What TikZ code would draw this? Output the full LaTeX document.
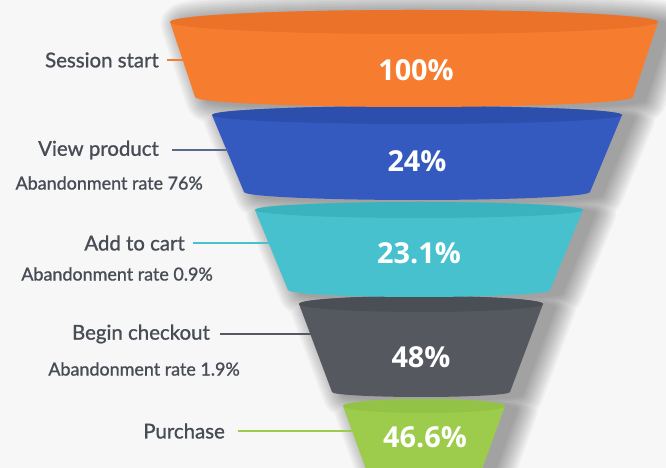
\documentclass[tikz,border=0pt]{standalone}
\usepackage{fontspec}
\setmainfont{Lato}[FakeBold=1.1]
\newfontfamily\pctfont{Open Sans}

\definecolor{bgcol}{HTML}{F7F7F7}
\definecolor{txtcol}{HTML}{474C55}
\definecolor{orangeA}{HTML}{F67D30}
\definecolor{orangeB}{HTML}{EA7329}
\definecolor{blueA}{HTML}{345AC0}
\definecolor{blueB}{HTML}{2C4EAD}
\definecolor{cyanA}{HTML}{46C1CD}
\definecolor{cyanB}{HTML}{3BB3BF}
\definecolor{grayA}{HTML}{55595F}
\definecolor{grayB}{HTML}{4A4E55}
\definecolor{greenA}{HTML}{9DCC4C}
\definecolor{greenB}{HTML}{93C346}
\definecolor{slate}{HTML}{5B6A88}

% 漏斗一段的轮廓: 中心x, 顶y, 顶半径x, 顶半径y, 底y, 底半径x, 底半径y
\newcommand{\funnelbody}[7]{({#1-#3},#2) arc[start angle=180, end angle=0, x radius=#3, y radius=#4]
  -- ({#1+#6},#5) arc[start angle=0, end angle=-180, x radius=#6, y radius=#7] -- cycle}

% 漏斗一段: 侧面颜色, 顶面颜色, 然后同上七个数
\newcommand{\funnelpart}[9]{%
  \fill[#1] \funnelbody{#3}{#4}{#5}{#6}{#7}{#8}{#9};
  \fill[#2] (#3,#4) ellipse[x radius=#5, y radius=#6];
}

% 整个漏斗的外形 (画阴影用)
\newcommand{\funnelall}{\funnelbody{424}{62}{81}{7}{-4}{57}{5}
  \funnelbody{421}{164}{122}{8}{76}{89}{5}
  \funnelbody{419}{258}{164}{8}{178}{131}{7}
  \funnelbody{417}{353}{205}{9}{276}{173}{8}
  \funnelbody{414}{446}{244}{12}{371}{219}{10}}

\tikzset{
  stage/.style={text=txtcol, font=\fontsize{20.5}{22}\selectfont, anchor=east, inner sep=0pt},
  rate/.style={text=txtcol, font=\fontsize{18}{20}\selectfont, anchor=east, inner sep=0pt},
  pct/.style={text=white, font=\pctfont\bfseries\fontsize{29}{32}\selectfont},
  link/.style={line width=1.4bp}
}

\begin{document}
\begin{tikzpicture}[x=1bp, y=1bp]
  % 1. 背景
  \useasboundingbox (0,0) rectangle (666,468);
  \clip (0,0) rectangle (666,468);
  \fill[bgcol] (0,0) rectangle (666,468);

  % 2. 软阴影, 一层层叠出来
  \foreach \w in {2,6,...,42} {
    \begin{scope}[transparency group, opacity=0.035]
      \filldraw[black, line width=\w bp, line join=round, xshift=12bp, yshift=-3bp] \funnelall;
    \end{scope}
  }

  % 3. 漏斗各段, 从下往上画
  \funnelpart{greenA}{greenB}{424}{62}{81}{7}{-4}{57}{5}
  \funnelpart{grayA}{grayB}{421}{164}{122}{8}{76}{89}{5}
  \funnelpart{cyanA}{cyanB}{419}{258}{164}{8}{178}{131}{7}
  \funnelpart{blueA}{blueB}{417}{353}{205}{9}{276}{173}{8}
  \funnelpart{orangeA}{orangeB}{414}{446}{244}{12}{371}{219}{10}

  % 4. 百分比
  \node[pct] (p1) at (416,398) {100\%};
  \node[pct] (p2) at (417,307) {24\%};
  \node[pct] (p3) at (419,215) {23.1\%};
  \node[pct] (p4) at (421,111) {48\%};
  \node[pct] (p5) at (425,31) {46.6\%};

  % 5. 左边的步骤名和流失率
  \node[stage] (ss) at (159,408) {Session start};
  \node[stage] (vp) at (159,318) {View product};
  \node[rate]  (r1) at (203,285) {Abandonment rate 76\%};
  \node[stage] (ac) at (185,225) {Add to cart};
  \node[rate]  (r2) at (213,194) {Abandonment rate 0.9\%};
  \node[stage] (bc) at (210,134) {Begin checkout};
  \node[rate]  (r3) at (240,99) {Abandonment rate 1.9\%};
  \node[stage] (pu) at (225,37) {Purchase};

  % 6. 连线到漏斗边上
  \coordinate (e1) at (184,408);
  \coordinate (e2) at (228,317);
  \coordinate (e3) at (270,224);
  \coordinate (e4) at (312,132);
  \coordinate (e5) at (352,35);
  \draw[link, orangeA] ([xshift=8bp]ss.east) -- (ss.east -| e1);
  \draw[link, slate]   ([xshift=13bp]vp.east) -- (vp.east -| e2);
  \draw[link, cyanA]   ([xshift=8bp]ac.east) -- (ac.east -| e3);
  \draw[link, grayA]   ([xshift=10bp]bc.east) -- (bc.east -| e4);
  \draw[link, greenA]  ([xshift=13bp]pu.east) -- (pu.east -| e5);
\end{tikzpicture}
\end{document}
